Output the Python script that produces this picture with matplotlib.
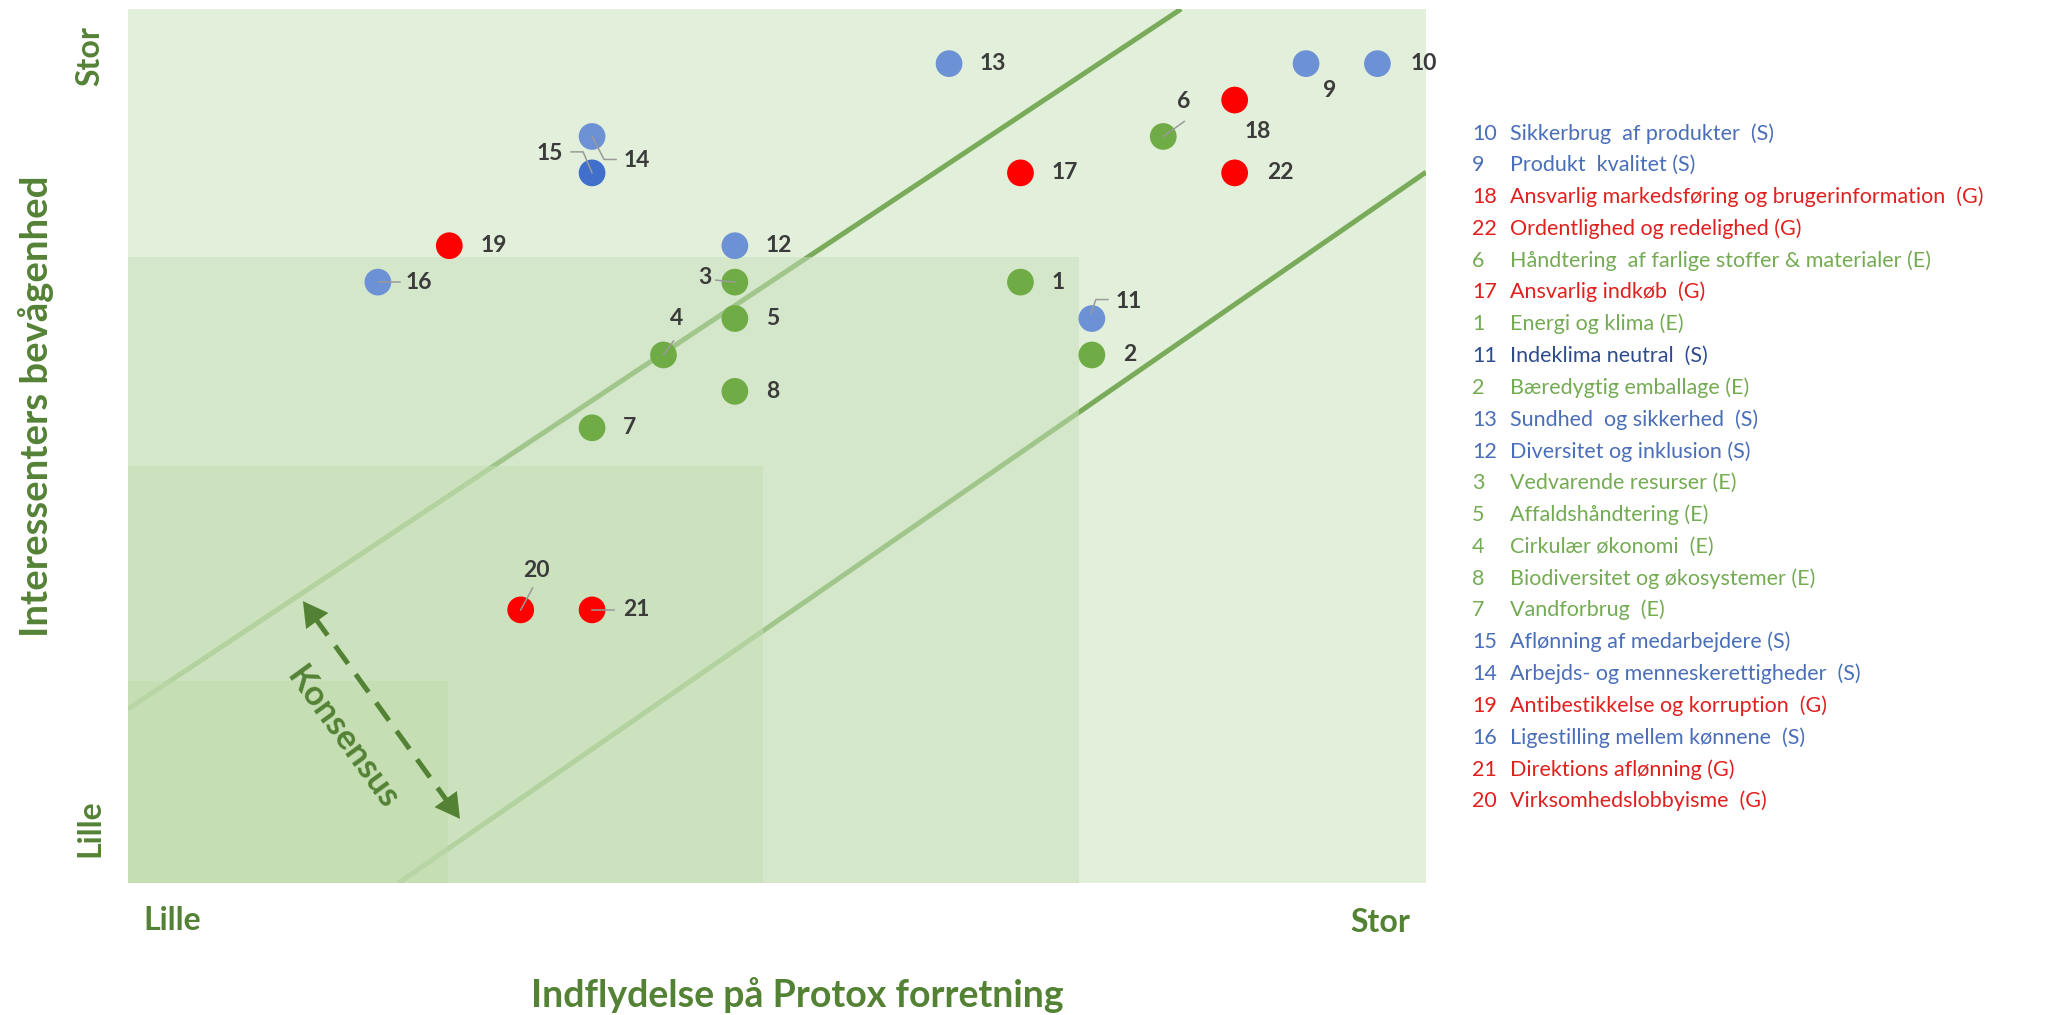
import matplotlib.pyplot as plt
import matplotlib.transforms as mtransforms
from matplotlib.patches import Rectangle

plt.rcParams['font.family'] = ['Lato', 'DejaVu Sans']

# topics: number, influence on business (x), stakeholder awareness (y), ESG group
ids = [13, 9, 10, 18, 6, 17, 22, 14, 15, 19, 12, 16, 3, 1, 5, 11, 4, 2, 8, 7, 20, 21]
influence = [11, 16, 17, 15, 14, 12, 15, 6, 6, 4, 8, 3, 8, 12, 8, 13, 7, 13, 8, 6, 5, 6]
awareness = [22, 22, 22, 21, 20, 19, 19, 20, 19, 17, 17, 16, 16, 16, 15, 15, 14, 14, 13, 12, 7, 7]
groups = ['S', 'S', 'S', 'G', 'E', 'G', 'G', 'S', 'S', 'G', 'S', 'S',
          'E', 'E', 'E', 'S', 'E', 'E', 'E', 'E', 'G', 'G']

legend_ids = [10, 9, 18, 22, 6, 17, 1, 11, 2, 13, 12, 3, 5, 4, 8, 7, 15, 14, 19, 16, 21, 20]
legend_names = [
    "Sikkerbrug  af produkter  (S)",
    "Produkt  kvalitet (S)",
    "Ansvarlig markedsføring og brugerinformation  (G)",
    "Ordentlighed og redelighed (G)",
    "Håndtering  af farlige stoffer & materialer (E)",
    "Ansvarlig indkøb  (G)",
    "Energi og klima (E)",
    "Indeklima neutral  (S)",
    "Bæredygtig emballage (E)",
    "Sundhed  og sikkerhed  (S)",
    "Diversitet og inklusion (S)",
    "Vedvarende resurser (E)",
    "Affaldshåndtering (E)",
    "Cirkulær økonomi  (E)",
    "Biodiversitet og økosystemer (E)",
    "Vandforbrug  (E)",
    "Aflønning af medarbejdere (S)",
    "Arbejds- og menneskerettigheder  (S)",
    "Antibestikkelse og korruption  (G)",
    "Ligestilling mellem kønnene  (S)",
    "Direktions aflønning (G)",
    "Virksomhedslobbyisme  (G)",
]

dot_colors = {'S': '#6d91d5', 'G': '#ff0000', 'E': '#6fac46'}
dot_special = {15: '#4070cc'}
text_colors = {'S': '#4a6fb8', 'G': '#e0201e', 'E': '#74ab53'}
text_special = {11: '#2e4c8c'}
green = '#548235'
label_color = '#3b3b3b'

W, H = 2049, 1015
fig = plt.figure(figsize=(W / 100, H / 100), dpi=100)
ax = fig.add_axes([128 / W, 1 - 883 / H, 1298 / W, 874 / H])
x0, x1, y0, y1 = -0.5, 17.68, -0.5, 23.5
ax.set_xlim(x0, x1)
ax.set_ylim(y0, y1)
ax.axis('off')

# background and the nested zones (semi transparent, over the lines)
ax.add_patch(Rectangle((x0, y0), x1 - x0, y1 - y0, color='#e2efda', zorder=0))
ax.plot([x0, 14.25], [4.28, 23.5], color='#79ab5b', lw=3.6, zorder=1, solid_capstyle='butt')
ax.plot([3.29, x1], [y0, 19.02], color='#79ab5b', lw=3.6, zorder=1, solid_capstyle='butt')
ax.add_patch(Rectangle((x0, y0), 13.32, 17.18, color='#cae1bc', alpha=0.5, lw=0, zorder=2))
ax.add_patch(Rectangle((x0, y0), 8.9, 11.44, color='#c4deb3', alpha=0.5, lw=0, zorder=2))
ax.add_patch(Rectangle((x0, y0), 4.48, 5.55, color='#bfdbab', alpha=0.5, lw=0, zorder=2))

cols = [dot_special.get(i, dot_colors[g]) for i, g in zip(ids, groups)]
ax.scatter(influence, awareness, s=370, c=cols, linewidths=0, zorder=4)

# label offsets in pixels (dx, dy, ha)
label_pos = {
    13: (30, 0, 'left'), 9: (17, -27, 'left'), 10: (33, 0, 'left'),
    18: (10, -31, 'left'), 6: (14, 35, 'left'), 22: (32, 0, 'left'),
    11: (24, 17, 'left'), 15: (-29, 19, 'right'), 14: (31, -24, 'left'),
    16: (28, 0, 'left'), 3: (-23, 5, 'right'), 4: (13, 36, 'center'),
    20: (16, 39, 'center'),
}
leaders = {
    15: [(-21, 21), (-9, 21), (0, 0)],
    14: [(24, -23), (12, -23), (0, 0)],
    6: [(21, 15), (0, 0)],
    11: [(-1, 5), (4, 19), (16, 19)],
    16: [(0, 0), (22, 0)],
    3: [(-19, 2), (0, 0)],
    4: [(0, 0), (10, 14)],
    20: [(0, 0), (12, 22)],
    21: [(0, 0), (22, 0)],
}
for i, x, y in zip(ids, influence, awareness):
    dx, dy, ha = label_pos.get(i, (31, 0, 'left'))
    ax.annotate(str(i), (x, y), xytext=(dx, dy), textcoords='offset pixels',
                ha=ha, va='center', fontsize=16.5, fontweight='bold',
                color=label_color, zorder=5)
    if i in leaders:
        px, py = ax.transData.transform((x, y))
        xs = [p[0] for p in leaders[i]]
        ys = [p[1] for p in leaders[i]]
        ax.plot(xs, ys, color='#9a9a9a', lw=1.1, zorder=5,
                transform=mtransforms.Affine2D().translate(px, py))

# consensus arrow
sx, sy, ex, ey = 1.95, 7.24, 4.15, 1.26
t0, t1 = 0.075, 0.925
ax.plot([sx + (ex - sx) * t0, sx + (ex - sx) * t1],
        [sy + (ey - sy) * t0, sy + (ey - sy) * t1],
        color=green, lw=3.6, ls=(0, (4.4, 2.6)), zorder=3, solid_capstyle='butt')
for tip, back in [((sx, sy), 0.09), ((ex, ey), 0.91)]:
    ax.annotate('', xy=tip, xytext=(sx + (ex - sx) * back, sy + (ey - sy) * back),
                arrowprops=dict(arrowstyle='-|>,head_length=0.8,head_width=0.45',
                                color=green, lw=0, mutation_scale=22,
                                shrinkA=0, shrinkB=0), zorder=3)
ax.text(2.5, 3.5, 'Konsensus', rotation=-54, rotation_mode='anchor', ha='center',
        va='center', fontsize=25, fontweight='bold', color=green, zorder=3)

# axis texts
fig.text(36 / W, 1 - 406 / H, 'Interessenters bevågenhed', rotation=90, ha='center',
         va='center', fontsize=27.5, fontweight='bold', color=green)
fig.text(90 / W, 1 - 56 / H, 'Stor', rotation=90, ha='center', va='center',
         fontsize=23, fontweight='bold', color=green)
fig.text(90 / W, 1 - 828 / H, 'Lille', rotation=90, ha='center', va='center',
         fontsize=23, fontweight='bold', color=green)
fig.text(143 / W, 1 - 930 / H, 'Lille', ha='left', va='baseline',
         fontsize=23, fontweight='bold', color=green)
fig.text(1410 / W, 1 - 932 / H, 'Stor', ha='right', va='baseline',
         fontsize=23, fontweight='bold', color=green)
fig.text(797 / W, 1 - 1007 / H, 'Indflydelse på Protox forretning', ha='center',
         va='baseline', fontsize=27, fontweight='bold', color=green)

# legend list
group_of = dict(zip(ids, groups))
for k, (num, name) in enumerate(zip(legend_ids, legend_names)):
    yb = 1 - (139.5 + k * 31.8) / H
    col = text_special.get(num, text_colors[group_of[num]])
    fig.text(1472 / W, yb, str(num), ha='left', va='baseline', fontsize=15.5, color=col)
    fig.text(1510 / W, yb, name, ha='left', va='baseline', fontsize=15.5, color=col)

fig.savefig('out.png', dpi=100, facecolor='white')
